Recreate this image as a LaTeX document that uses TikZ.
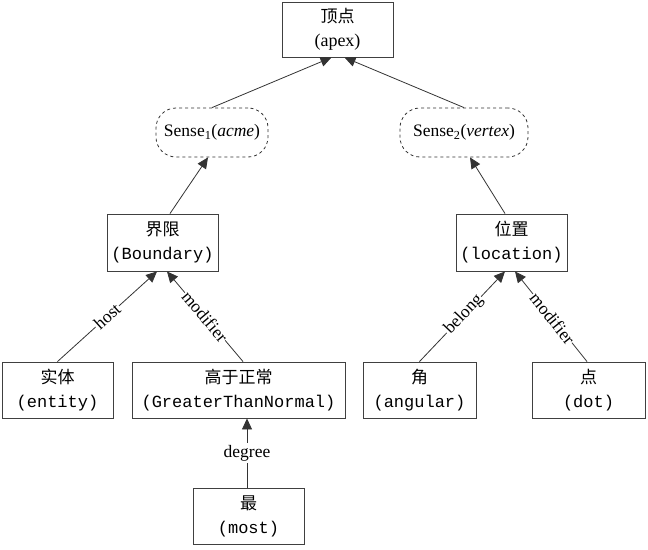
\documentclass[tikz,border=0pt]{standalone}
\usepackage{fontspec}
\setmainfont{Liberation Serif}
\newfontfamily\cjk{Noto Sans CJK SC}
\newfontfamily\monofnt{Liberation Mono}
\usetikzlibrary{arrows.meta,calc}
\tikzset{
  box/.style={draw=black!75, line width=0.9pt, align=center, inner sep=0pt,
    font=\fontsize{17}{24}\selectfont},
  sense/.style={draw=black!80, dashed, line width=0.8pt, rounded corners=20pt,
    inner sep=0pt, font=\fontsize{17.5}{20}\selectfont},
  arr/.style={draw=black!80, line width=0.8pt, -{Triangle[length=11pt,width=10pt]}},
  lab/.style={sloped, fill=white, inner sep=1pt, font=\fontsize{17.5}{18}\selectfont},
  vlab/.style={fill=white, inner sep=2pt, font=\fontsize{17.5}{18}\selectfont}
}
\newcommand{\bx}[2]{{\cjk #1}\\{\monofnt(#2)}}
\begin{document}
\begin{tikzpicture}[x=1pt,y=-1pt]
\useasboundingbox (0,0) rectangle (648,549);
\node[box, minimum width=111pt, minimum height=55pt] (apex) at (337.5,29.5) {{\cjk 顶点}\\{\fontsize{18}{24}\selectfont(apex)}};
\node[sense, minimum width=112pt, minimum height=49pt] (s1) at (212,132.5) {Sense\textsubscript{1}(\textit{acme})};
\node[sense, minimum width=128pt, minimum height=49pt] (s2) at (464,132.5) {Sense\textsubscript{2}(\textit{vertex})};
\node[box, minimum width=111pt, minimum height=57pt] (bnd) at (162.5,242.5) {\bx{界限}{Boundary}};
\node[box, minimum width=111pt, minimum height=57pt] (loc) at (511.5,242.5) {\bx{位置}{location}};
\node[box, minimum width=111pt, minimum height=56pt] (ent) at (57.5,390) {\bx{实体}{entity}};
\node[box, minimum width=213pt, minimum height=56pt] (gtn) at (238.5,390) {\bx{高于正常}{GreaterThanNormal}};
\node[box, minimum width=113pt, minimum height=56pt] (ang) at (419.5,390) {\bx{角}{angular}};
\node[box, minimum width=113pt, minimum height=56pt] (dot) at (588.5,390) {\bx{点}{dot}};
\node[box, minimum width=111pt, minimum height=56pt] (most) at (248.5,516) {\bx{最}{most}};

\coordinate (mt) at ($(most.north)+(-1.5,0)$);
\coordinate (gb) at (mt |- gtn.south);

\draw[arr] (s1.north) -- ($(apex.south)+(-6,0)$);
\draw[arr] (s2.north) -- ($(apex.south)+(7,0)$);
\draw[arr] ($(bnd.north)+(7.5,0)$) -- ($(s1.south)+(-4,0)$);
\draw[arr] ($(loc.north)+(-6.5,0)$) -- ($(s2.south)+(6,0)$);
\draw[arr] (ent.north) -- node[lab, pos=0.5] {host} ($(bnd.south)+(-5.5,0)$);
\draw[arr] ($(gtn.north)+(4.5,0)$) -- node[lab, pos=0.5] {modifier} ($(bnd.south)+(4.5,0)$);
\draw[arr] (ang.north) -- node[lab, pos=0.52] {belong} ($(loc.south)+(-6.5,0)$);
\draw[arr] ($(dot.north)+(-1.5,0)$) -- node[lab, pos=0.48] {modifier} ($(loc.south)+(3.5,0)$);
\draw[arr] (mt) -- node[vlab, pos=0.5] {degree} (gb);
\end{tikzpicture}
\end{document}
